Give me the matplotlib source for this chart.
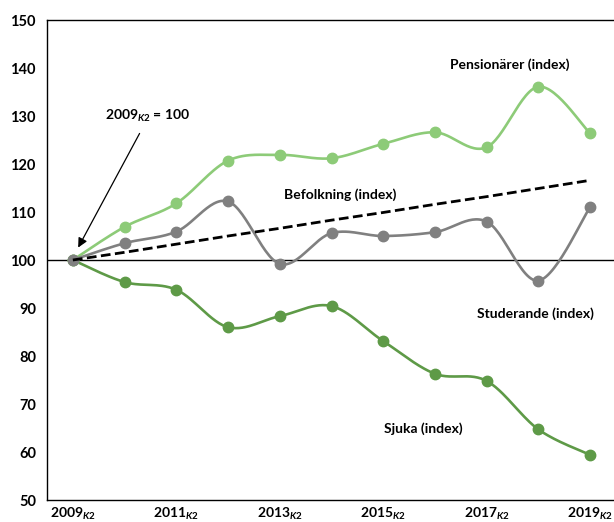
import numpy as np
import matplotlib
matplotlib.use("Agg")
import matplotlib.pyplot as plt

years = ["2009", "2010", "2011", "2012", "2013", "2014", "2015", "2016", "2017", "2018", "2019"]
pensionarer = [100, 106.9, 111.8, 120.7, 121.9, 121.2, 124.2, 126.6, 123.5, 136.1, 126.4]
studerande = [100, 103.5, 105.9, 112.2, 99.2, 105.6, 105.0, 105.8, 108.0, 95.7, 111.0]
sjuka = [100, 95.4, 93.8, 86.0, 88.3, 90.4, 83.1, 76.3, 74.8, 64.7, 59.4]
befolkning = [100, 101.6, 103.3, 105.0, 106.6, 108.3, 109.9, 111.6, 113.2, 114.9, 116.6]
tick_years = ["2009", "2011", "2013", "2015", "2017", "2019"]
yticks = [50, 60, 70, 80, 90, 100, 110, 120, 130, 140, 150]

plt.rcParams['font.family'] = ['Lato', 'DejaVu Sans']
plt.rcParams['mathtext.fontset'] = 'custom'
plt.rcParams['mathtext.rm'] = 'Lato:bold'
plt.rcParams['mathtext.it'] = 'Lato:bold:italic'
plt.rcParams['mathtext.bf'] = 'Lato:bold'


def smooth(y, n=30):
    y = np.asarray(y, float)
    x = np.arange(len(y), dtype=float)
    P = np.column_stack([x, y])
    Pe = np.vstack([P[0], P, P[-1]])
    out = []
    t = np.linspace(0, 1, n)[:, None]
    for i in range(len(P) - 1):
        p0, p1, p2, p3 = Pe[i], Pe[i + 1], Pe[i + 2], Pe[i + 3]
        c1 = p1 + (p2 - p0) / 6
        c2 = p2 - (p3 - p1) / 6
        seg = ((1 - t) ** 3) * p1 + 3 * ((1 - t) ** 2) * t * c1 + 3 * (1 - t) * t ** 2 * c2 + t ** 3 * p2
        out.append(seg if i == 0 else seg[1:])
    s = np.vstack(out)
    return s[:, 0], s[:, 1]


fig = plt.figure(figsize=(6.14, 5.22), dpi=100)
ax = fig.add_axes([47 / 614, 1 - 500 / 522, 569 / 614, 480 / 522])

x = np.arange(len(years))
ax.axhline(100, color='black', lw=1.0, zorder=1)

light = '#8DCB78'
dark = '#5E9A47'
gray = '#808080'

for vals, col, z in [(sjuka, dark, 3), (pensionarer, light, 3), (studerande, gray, 4)]:
    sx, sy = smooth(vals)
    ax.plot(sx, sy, color=col, lw=1.9, zorder=z, solid_capstyle='round')
    ax.plot(x, vals, 'o', color=col, ms=7.5, zorder=z)

ax.plot(x, befolkning, color='black', lw=2.0, ls=(0, (3.5, 1.6)), zorder=5)

ax.set_xlim(-0.5, len(years) - 0.5)
ax.set_ylim(50, 150)
ax.set_yticks(yticks)
ax.set_yticklabels([str(v) for v in yticks], fontsize=10.5, fontweight='bold')
ax.set_xticks([years.index(t) for t in tick_years])
ax.set_xticklabels([t + r"$_{\mathit{K2}}$" for t in tick_years], fontsize=10, fontweight='bold')
ax.tick_params(length=0)
ax.tick_params(axis='y', pad=8)
ax.tick_params(axis='x', pad=4)
for s in ['left', 'top', 'bottom']:
    ax.spines[s].set_linewidth(1.0)
ax.spines['right'].set_visible(False)

def px(xp, yp):
    return (xp - 73) / ((590 - 73) / 10), 100 + (260 - yp) / 4.8

fs = 10
ax.text(*px(510, 65), "Pensionärer (index)", ha='center', va='center', fontsize=fs, fontweight='bold')
ax.text(*px(340, 195), "Befolkning (index)", ha='center', va='center', fontsize=fs, fontweight='bold')
ax.text(*px(535, 314), "Studerande (index)", ha='center', va='center', fontsize=fs, fontweight='bold')
ax.text(*px(423, 429), "Sjuka (index)", ha='center', va='center', fontsize=fs, fontweight='bold')
ax.text(*px(148, 116), r"2009$_{\mathit{K2}}$ = 100", ha='center', va='center', fontsize=fs, fontweight='bold')
ax.annotate("", xy=px(77, 250), xytext=px(141, 131),
            arrowprops=dict(arrowstyle='-|>', color='black', lw=0.9, mutation_scale=14), zorder=6)

fig.savefig("out.png", dpi=100)
